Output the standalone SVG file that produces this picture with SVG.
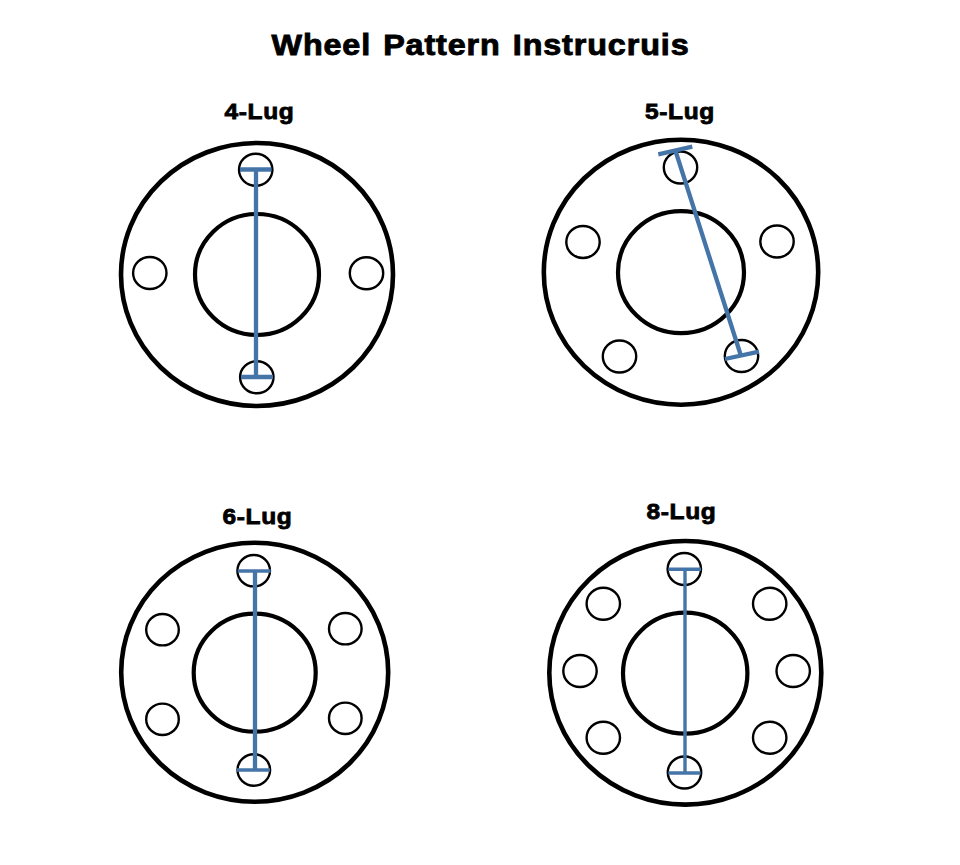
<svg xmlns="http://www.w3.org/2000/svg" width="960" height="865" viewBox="0 0 960 865">
<style>
text{font-family:"Liberation Sans",Arial,sans-serif;font-weight:700;fill:#000;stroke:#000}
.t{font-size:29px;stroke-width:.9;letter-spacing:.8px;word-spacing:2px}
.l{font-size:22.5px;stroke-width:.8;letter-spacing:.6px}
.o{fill:none;stroke:#000;stroke-width:4.600}
.m{fill:none;stroke:#000;stroke-width:4.200}
.h{fill:none;stroke:#000;stroke-width:2.400}
.b{fill:none;stroke:#4575a8;stroke-width:4.300}
.c{fill:none;stroke:#4575a8;stroke-width:3.400}
</style>
<rect width="960" height="865" fill="#fff"/>
<text class="t" x="271.500" y="54.500" textLength="418" lengthAdjust="spacingAndGlyphs">Wheel Pattern Instrucruis</text>
<g id="lug4">
<text class="l" x="224.500" y="119.300" textLength="70" lengthAdjust="spacingAndGlyphs">4-Lug</text>
<ellipse class="o" cx="257" cy="274.500" rx="136" ry="131.500"/><ellipse class="m" cx="257" cy="274.500" rx="62" ry="60.500"/>
<ellipse class="h" cx="255.700" cy="169.700" rx="16.700" ry="16"/><ellipse class="h" cx="149.800" cy="273" rx="16.700" ry="16"/><ellipse class="h" cx="366.500" cy="273.300" rx="16.700" ry="16"/><ellipse class="h" cx="256.800" cy="377.300" rx="16.700" ry="16"/>
</g>
<g id="lug5">
<text class="l" x="645" y="119" textLength="70" lengthAdjust="spacingAndGlyphs">5-Lug</text>
<ellipse class="o" cx="681" cy="272.200" rx="137.200" ry="132.500"/><ellipse class="m" cx="681" cy="272.200" rx="63" ry="61"/>
<ellipse class="h" cx="680.500" cy="167.500" rx="16.700" ry="16"/><ellipse class="h" cx="583" cy="242" rx="16.700" ry="16"/><ellipse class="h" cx="777" cy="241.500" rx="16.700" ry="16"/><ellipse class="h" cx="619.500" cy="356.500" rx="16.700" ry="16"/><ellipse class="h" cx="741.500" cy="356" rx="16.700" ry="16"/>
</g>
<g id="lug6">
<text class="l" x="222.500" y="524.300" textLength="70" lengthAdjust="spacingAndGlyphs">6-Lug</text>
<ellipse class="o" cx="254.700" cy="672.200" rx="133.500" ry="129.500"/><ellipse class="m" cx="254.700" cy="672.700" rx="61" ry="59"/>
<ellipse class="h" cx="253.700" cy="570.700" rx="16.300" ry="15.700"/><ellipse class="h" cx="162.500" cy="629.700" rx="16.300" ry="15.700"/><ellipse class="h" cx="345.300" cy="628.700" rx="16.300" ry="15.700"/><ellipse class="h" cx="162.500" cy="719.300" rx="16.300" ry="15.700"/><ellipse class="h" cx="345.300" cy="718.300" rx="16.300" ry="15.700"/><ellipse class="h" cx="253.800" cy="770" rx="16.300" ry="15.700"/>
</g>
<g id="lug8">
<text class="l" x="646.500" y="519.300" textLength="70" lengthAdjust="spacingAndGlyphs">8-Lug</text>
<ellipse class="o" cx="685.300" cy="672.800" rx="136" ry="131.800"/><ellipse class="m" cx="685.200" cy="673.200" rx="62.200" ry="60.500"/>
<ellipse class="h" cx="684.300" cy="569" rx="16.700" ry="16"/><ellipse class="h" cx="603.300" cy="603.800" rx="16.700" ry="16"/><ellipse class="h" cx="769.700" cy="603.800" rx="16.700" ry="16"/><ellipse class="h" cx="580" cy="671" rx="16.700" ry="16"/><ellipse class="h" cx="793.200" cy="671" rx="16.700" ry="16"/><ellipse class="h" cx="603.300" cy="737.700" rx="16.700" ry="16"/><ellipse class="h" cx="769.700" cy="737.700" rx="16.700" ry="16"/><ellipse class="h" cx="684.500" cy="772.500" rx="16.700" ry="16"/>
</g>
<g id="connectors">
<path class="b" d="M256 170V377M240 169.500H271.500M241 377H273"/>
<path class="b" d="M675.700 151.500L740.700 355M658.300 154.300L692.300 146.700M725 359L759 351.700"/>
<path class="b" d="M255 571.300V770"/><path class="c" d="M237.700 571H270.700M237 770H270"/>
<path class="c" d="M685 569.300V773M668.300 569.300H701M668.300 773H700.700"/>
</g>
</svg>
